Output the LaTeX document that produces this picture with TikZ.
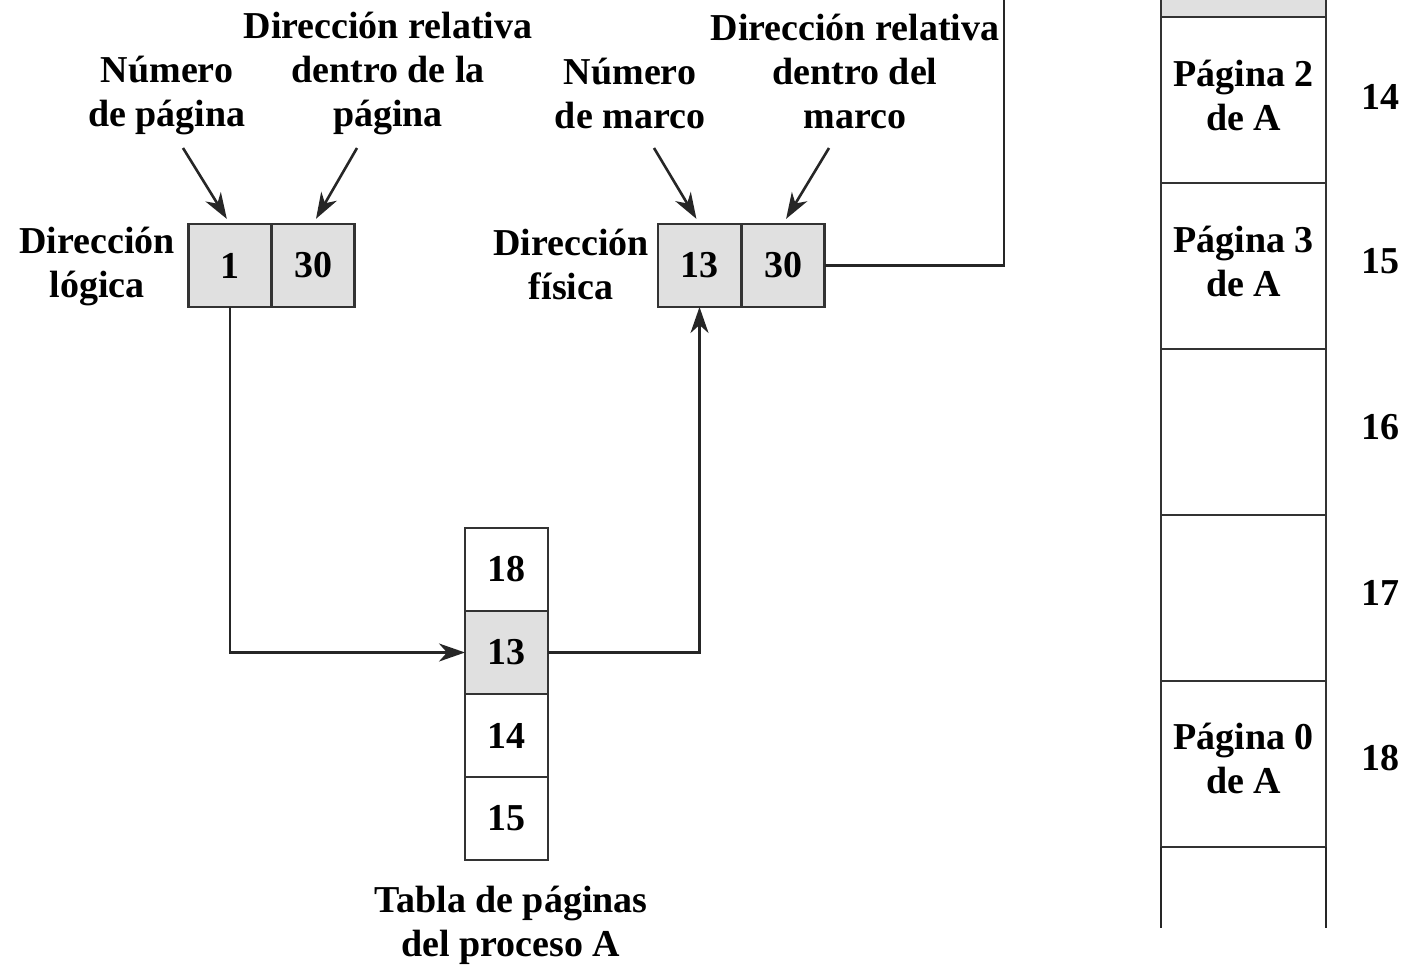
\documentclass[tikz,border=0pt]{standalone}
\usepackage{fontspec}
\setmainfont{Liberation Serif}
\usetikzlibrary{arrows.meta, positioning}

\begin{document}
\begin{tikzpicture}[
    x=0.5pt, y=-0.5pt,
    every node/.style={font=\fontsize{19}{22}\selectfont\bfseries, align=center},
    cell/.style={rectangle, draw=black!80, line width=1.3pt, fill=white, minimum width=41.5pt, minimum height=41.5pt, inner sep=0pt, outer sep=0pt},
    memcell/.style={rectangle, draw=black!80, line width=1.3pt, fill=white, minimum width=82.5pt, minimum height=83pt, inner sep=0pt, outer sep=0pt},
    arrow/.style={line width=1.3pt, draw=black!85, -{Stealth[length=13pt,width=9pt,inset=4pt]}},
    link/.style={line width=1.3pt, draw=black!85}
]
\useasboundingbox (0,0) rectangle (1414,965);
\clip (0,0) rectangle (1414,965);

% Logical address
\node[cell, fill=black!12] (pg1) at (230,265.5) {1};
\node[cell, fill=black!12] (off1) at (313,265.5) {30};
\node (lbllog) at (97,266) {Dirección\\lógica};
\node (lblpage) at (167,95) {Número\\de página};
\node (lbloff1) at (388,73) {Dirección relativa\\dentro de la\\página};

% Physical address
\node[cell, fill=black!12] (fr13) at (699.5,265.5) {13};
\node[cell, fill=black!12] (off2) at (783,265.5) {30};
\node (lblfis) at (571,264) {Dirección\\física};
\node (lblframe) at (630,93) {Número\\de marco};
\node (lbloff2) at (855,71) {Dirección relativa\\dentro del\\marco};

% Page table of process A
\node[cell] (pt18) at (506.5,569.5) {18};
\node[cell, fill=black!12] (pt13) at (506.5,652.5) {13};
\node[cell] (pt14) at (506.5,735.5) {14};
\node[cell] (pt15) at (506.5,818.5) {15};
\node (lbltable) at (511,925) {Tabla de páginas\\del proceso A};

% Main memory
\node[memcell, fill=black!12] (mem13) at (1243.5,-66) {};
\node[memcell] (mem14) at (1243.5,100) {};
\node[memcell] (mem15) at (1243.5,266) {};
\node[memcell] (mem16) at (1243.5,432) {};
\node[memcell] (mem17) at (1243.5,598) {};
\node[memcell] (mem18) at (1243.5,764) {};
\draw[link] (mem18.south west) -- ++(0,81);
\draw[link] (mem18.south east) -- ++(0,81);
\node (txt14) at (1243.5,95) {Página 2\\de A};
\node (txt15) at (1243.5,261) {Página 3\\de A};
\node (txt18) at (1243.5,758) {Página 0\\de A};
\node (num14) at (1380,97) {14};
\node (num15) at (1380,261) {15};
\node (num16) at (1380,427) {16};
\node (num17) at (1380,593) {17};
\node (num18) at (1380,758) {18};

% Label arrows
\coordinate (tpage) at (183,148);
\coordinate (toff1) at (357,148);
\coordinate (tframe) at (654,148);
\coordinate (toff2) at (829,148);
\draw[arrow, shorten >=3pt] (tpage) -- (pg1.north);
\draw[arrow, shorten >=3pt] (toff1) -- (off1.north);
\draw[arrow, shorten >=3pt] (tframe) -- (fr13.north);
\draw[arrow, shorten >=3pt] (toff2) -- (off2.north);

% Connections
\coordinate (memexit) at (1004,0);
\draw[arrow] (pg1.south) |- (pt13.west);
\draw[arrow] (pt13.east) -| (fr13.south);
\draw[link] (off2.east) -| (memexit);

\end{tikzpicture}
\end{document}
